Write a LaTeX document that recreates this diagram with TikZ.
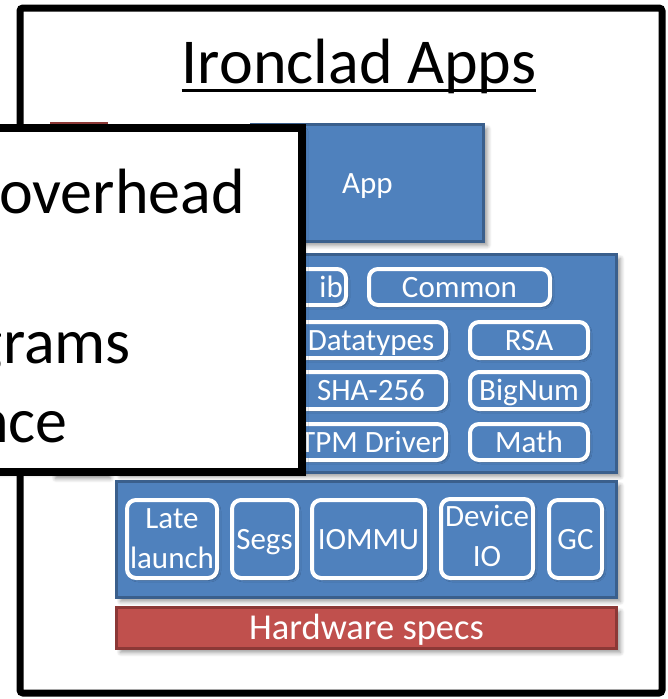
\documentclass[tikz,border=0pt]{standalone}
\usepackage{fontspec}
\setmainfont{Carlito}
\usetikzlibrary{shadows.blur}
\definecolor{bfill}{HTML}{4F81BD}
\definecolor{bline}{HTML}{3A5F8C}
\definecolor{rfill}{HTML}{C0504D}
\definecolor{rline}{HTML}{8C3836}
\tikzset{
  shad/.style={blur shadow={shadow xshift=4pt, shadow yshift=-4pt, shadow blur radius=4pt, shadow blur steps=6, shadow opacity=40}},
  smallshad/.style={blur shadow={shadow xshift=2pt, shadow yshift=-2pt, shadow blur radius=2pt, shadow blur steps=4, shadow opacity=35}},
  bluebox/.style={draw=bline, fill=bfill, line width=3pt, shad, inner sep=0pt},
  redbox/.style={draw=rline, fill=rfill, line width=3pt, shad, inner sep=0pt},
  wbox/.style={draw=white, fill=bfill, line width=4pt, rounded corners=9pt, smallshad, inner sep=0pt,
               text=white, font=\fontsize{31}{40}\selectfont, align=center},
  one/.style={text height=20pt, text depth=0pt},
  wtxt/.style={text=white, font=\fontsize{31}{40}\selectfont, inner sep=0pt},
  bigtxt/.style={font=\fontsize{64}{77}\selectfont, inner sep=0pt},
}
\begin{document}
\begin{tikzpicture}[x=1pt, y=-1pt]
\useasboundingbox (0,0) rectangle (667,699);
\clip (0,0) rectangle (667,699);
% outer frame
\draw[line width=7pt, rounded corners=3pt] (20,8) rectangle (662,693);
% title
\node[bigtxt, anchor=base] (title) at (359,83) {Ironclad Apps};
\draw[line width=3pt] ([yshift=-7pt]title.base west) -- ([yshift=-7pt]title.base east);
% red tall box (mostly hidden)
\node[redbox, minimum width=55pt, minimum height=351pt] (redtall) at (79,299) {};
% app
\node[bluebox, minimum width=232pt, minimum height=117pt, wtxt, one] (app) at (367.5,183) {App};
% middle layer
\node[bluebox, minimum width=500pt, minimum height=218pt] (mid) at (366.5,363.5) {};
\node[wbox, minimum width=84pt, minimum height=36pt] (lib) at (304,287) {};
\node[wtxt, anchor=base east] (libtxt) at (343,297) {ib};
\node[wbox, one, minimum width=181pt, minimum height=36pt] (common) at (459.5,287) {Common};
\node[wbox, one, minimum width=150pt, minimum height=36pt] (datatypes) at (371,340) {Datatypes};
\node[wbox, one, minimum width=118pt, minimum height=36pt] (rsa) at (529,340) {RSA};
\node[wbox, one, minimum width=150pt, minimum height=37pt] (sha) at (371,390.5) {SHA-256};
\node[wbox, one, minimum width=118pt, minimum height=37pt] (bignum) at (529,390.5) {BigNum};
\node[wbox, one, minimum width=150pt, minimum height=36pt] (tpm) at (371,442) {TPM Driver};
\node[wbox, one, minimum width=118pt, minimum height=36pt] (math) at (529,442) {Math};
% bottom layer
\node[bluebox, minimum width=500pt, minimum height=116pt] (bot) at (366.5,539.5) {};
\node[wbox, minimum width=90pt, minimum height=78pt] (late) at (172,539) {Late\\launch};
\node[wbox, one, minimum width=65pt, minimum height=78pt] (segs) at (264.5,539) {Segs};
\node[wbox, one, minimum width=113pt, minimum height=78pt] (iommu) at (368.5,539) {IOMMU};
\node[wbox, minimum width=92pt, minimum height=79pt] (device) at (487,538.5) {};
\node[wtxt, align=center] (devtxt) at (487,536) {Device\\IO};
\node[wbox, one, minimum width=53pt, minimum height=78pt] (gc) at (575.5,539) {GC};
% hardware specs
\node[redbox, minimum width=500pt, minimum height=41pt, text=white, font=\fontsize{36.5}{44}\selectfont, text height=23pt, text depth=0pt] (hw) at (366.5,628) {Hardware specs};
% overlay slide
\node[draw=black, fill=white, line width=8pt, minimum width=332pt, minimum height=344pt, inner sep=0pt,
      blur shadow={shadow xshift=3pt, shadow yshift=-3pt, shadow blur radius=3pt, shadow opacity=30}] (overlay) at (136,300) {};
\node[bigtxt, anchor=base east] (t1) at (245,213) {overhead};
\node[bigtxt, anchor=base east] (t2) at (131,363) {grams};
\node[bigtxt, anchor=base east] (t3) at (68,442) {nce};
\end{tikzpicture}
\end{document}
